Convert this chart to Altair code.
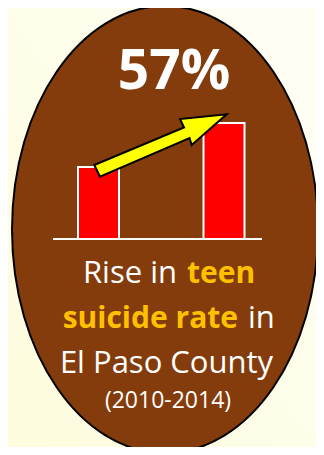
import altair as alt
import pandas as pd

# ---- data ----
years = ["2010", "2014"]
rates = [7.2, 11.6]          # relative bar heights
headline = ["57%"]
line1_white = ["Rise in"]
line1_gold = ["teen"]
line2_gold = ["suicide rate"]
line2_white = ["in"]
line3 = ["El Paso County"]
line4 = ["(2010-2014)"]

W, H = 308, 439
FONT = "Open Sans"
BROWN = "#843C0C"
GOLD = "#FFC000"

bars_df = pd.DataFrame({"year": years, "rate": rates})
one = pd.DataFrame({"k": [0]})

ellipse_path = "M-153,0 A153,223.5 0 1,0 153,0 A153,223.5 0 1,0 -153,0 Z"
arrow_path = ("M-70.7,50 L19,12.5 L15,4 L61.7,-0.7 L26.7,30 L24.5,23 L-65,61.7 Z")

bg = alt.Chart(one).mark_rect(
    fill=alt.Gradient(gradient="linear", x1=1, y1=0, x2=0, y2=1,
                      stops=[alt.GradientStop(color="#FEFEF6", offset=0),
                             alt.GradientStop(color="#FDFCDC", offset=1)])
).encode(x=alt.value(-8), x2=alt.value(W + 8), y=alt.value(-8), y2=alt.value(H + 8))

ellipse = alt.Chart(one).mark_point(
    shape=ellipse_path, size=4, filled=True, fill=BROWN, fillOpacity=1,
    stroke="black", strokeWidth=2, opacity=1
).encode(x=alt.value(157), y=alt.value(221.5))

bars = alt.Chart(bars_df).mark_bar(
    width=41, color="#FF0000", stroke="white", strokeWidth=2
).encode(
    x=alt.X("year:O", axis=None,
            scale=alt.Scale(type="point", domain=years, range=[90.5, 216], padding=0)),
    y=alt.Y("rate:Q", axis=None, scale=alt.Scale(domain=[0, 23.1], range=[231, 0])),
)

base_rule = alt.Chart(one).mark_rule(color="white", strokeWidth=2).encode(
    x=alt.value(45), x2=alt.value(254), y=alt.value(231)
)

arrow = alt.Chart(one).mark_point(
    shape=arrow_path, size=4, filled=True, fill="#FFFF00", fillOpacity=1,
    stroke="black", strokeWidth=2, opacity=1
).encode(x=alt.value(157), y=alt.value(107))


def txt(values, x, y, size, color, weight="normal", align="center"):
    df = pd.DataFrame({"t": values})
    return alt.Chart(df).mark_text(
        font=FONT, fontSize=size, fontWeight=weight, color=color,
        align=align, baseline="alphabetic"
    ).encode(text="t:N", x=alt.value(x), y=alt.value(y))


texts = [
    txt(headline, 166, 81, 55, "white", "bold"),
    txt(line1_white, 169, 275, 31, "white", "normal", "right"),
    txt(line1_gold, 179, 275, 30, GOLD, "bold", "left"),
    txt(line2_gold, 230, 320, 30, GOLD, "bold", "right"),
    txt(line2_white, 240, 320, 31, "white", "normal", "left"),
    txt(line3, 158.5, 365, 31, "white"),
    txt(line4, 160, 400, 23, "white"),
]

chart = alt.layer(bg, ellipse, bars, base_rule, arrow, *texts).properties(
    width=W, height=H, padding=0, autosize=alt.AutoSizeParams(type="none")
).configure_view(stroke=None).configure(background="#FEFDEA")

chart.save("out.html", embed_options={"renderer": "svg", "actions": False})
